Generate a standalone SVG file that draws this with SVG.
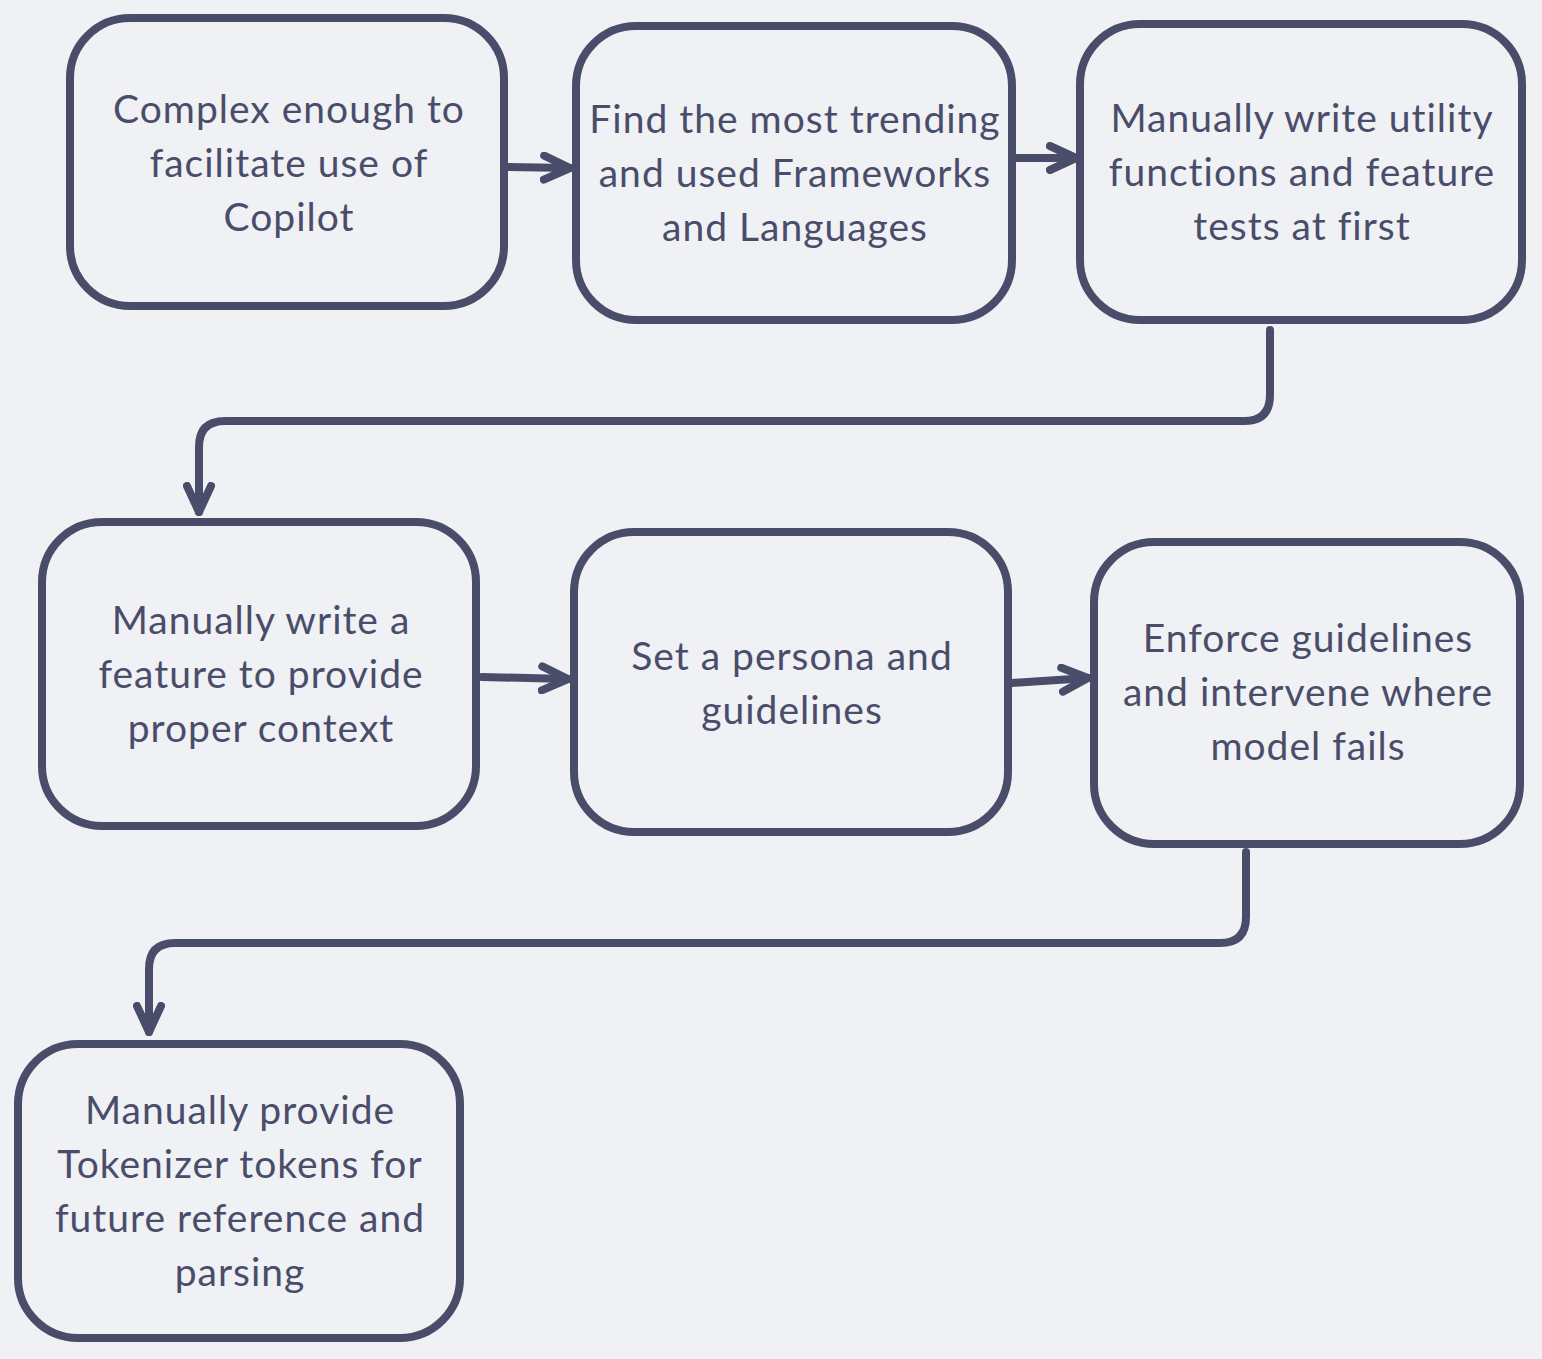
<svg xmlns="http://www.w3.org/2000/svg" width="1542" height="1359" viewBox="0 0 1542 1359">
<style>
.node rect{fill:#eff1f5;stroke:#4a4d6a;stroke-width:8}
.node text{font-family:Lato,"Noto Sans",sans-serif;font-size:39px;letter-spacing:1px;fill:#4a4d6a;text-anchor:middle;dominant-baseline:central}
.edges path{fill:none;stroke:#4a4d6a;stroke-width:8;stroke-linecap:round;stroke-linejoin:round}
</style>
<defs>
<marker id="ah" viewBox="-30 -16 34 32" refX="0" refY="0" markerWidth="34" markerHeight="32" markerUnits="userSpaceOnUse" orient="auto">
<path d="M-26,-12 L0,0 L-26,12" fill="none" stroke="#4a4d6a" stroke-width="8" stroke-linecap="round" stroke-linejoin="round"/>
</marker>
</defs>
<rect width="1542" height="1359" fill="#eff1f5"/>
<g class="edges">
<path d="M508,167 L570,168" marker-end="url(#ah)"/>
<path d="M1016,158 L1076,158" marker-end="url(#ah)"/>
<path d="M1270,330 L1270,395 Q1270,421 1244,421 L225,421 Q199,421 199,447 L199,512" marker-end="url(#ah)"/>
<path d="M482,677 L568,679" marker-end="url(#ah)"/>
<path d="M1012,683 L1088,678" marker-end="url(#ah)"/>
<path d="M1246,852 L1246,917 Q1246,943 1220,943 L175,943 Q149,943 149,969 L149,1032" marker-end="url(#ah)"/>
</g>
<g id="n1" class="node"><rect x="70" y="18" width="434" height="288" rx="60"/>
<text x="289" y="108">Complex enough to</text><text x="289" y="162">facilitate use of</text><text x="289" y="216">Copilot</text></g>
<g id="n2" class="node"><rect x="576" y="26" width="436" height="294" rx="60"/>
<text x="795" y="118">Find the most trending</text><text x="795" y="172">and used Frameworks</text><text x="795" y="226">and Languages</text></g>
<g id="n3" class="node"><rect x="1080" y="24" width="442" height="296" rx="60"/>
<text x="1302" y="117">Manually write utility</text><text x="1302" y="171">functions and feature</text><text x="1302" y="225">tests at first</text></g>
<g id="n4" class="node"><rect x="42" y="522" width="434" height="304" rx="60"/>
<text x="261" y="619">Manually write a</text><text x="261" y="673">feature to provide</text><text x="261" y="727">proper context</text></g>
<g id="n5" class="node"><rect x="574" y="532" width="434" height="300" rx="60"/>
<text x="792" y="655">Set a persona and</text><text x="792" y="709">guidelines</text></g>
<g id="n6" class="node"><rect x="1094" y="542" width="426" height="302" rx="60"/>
<text x="1308" y="637">Enforce guidelines</text><text x="1308" y="691">and intervene where</text><text x="1308" y="745">model fails</text></g>
<g id="n7" class="node"><rect x="18" y="1044" width="442" height="294" rx="60"/>
<text x="240" y="1109">Manually provide</text><text x="240" y="1163">Tokenizer tokens for</text><text x="240" y="1217">future reference and</text><text x="240" y="1271">parsing</text></g>
</svg>
